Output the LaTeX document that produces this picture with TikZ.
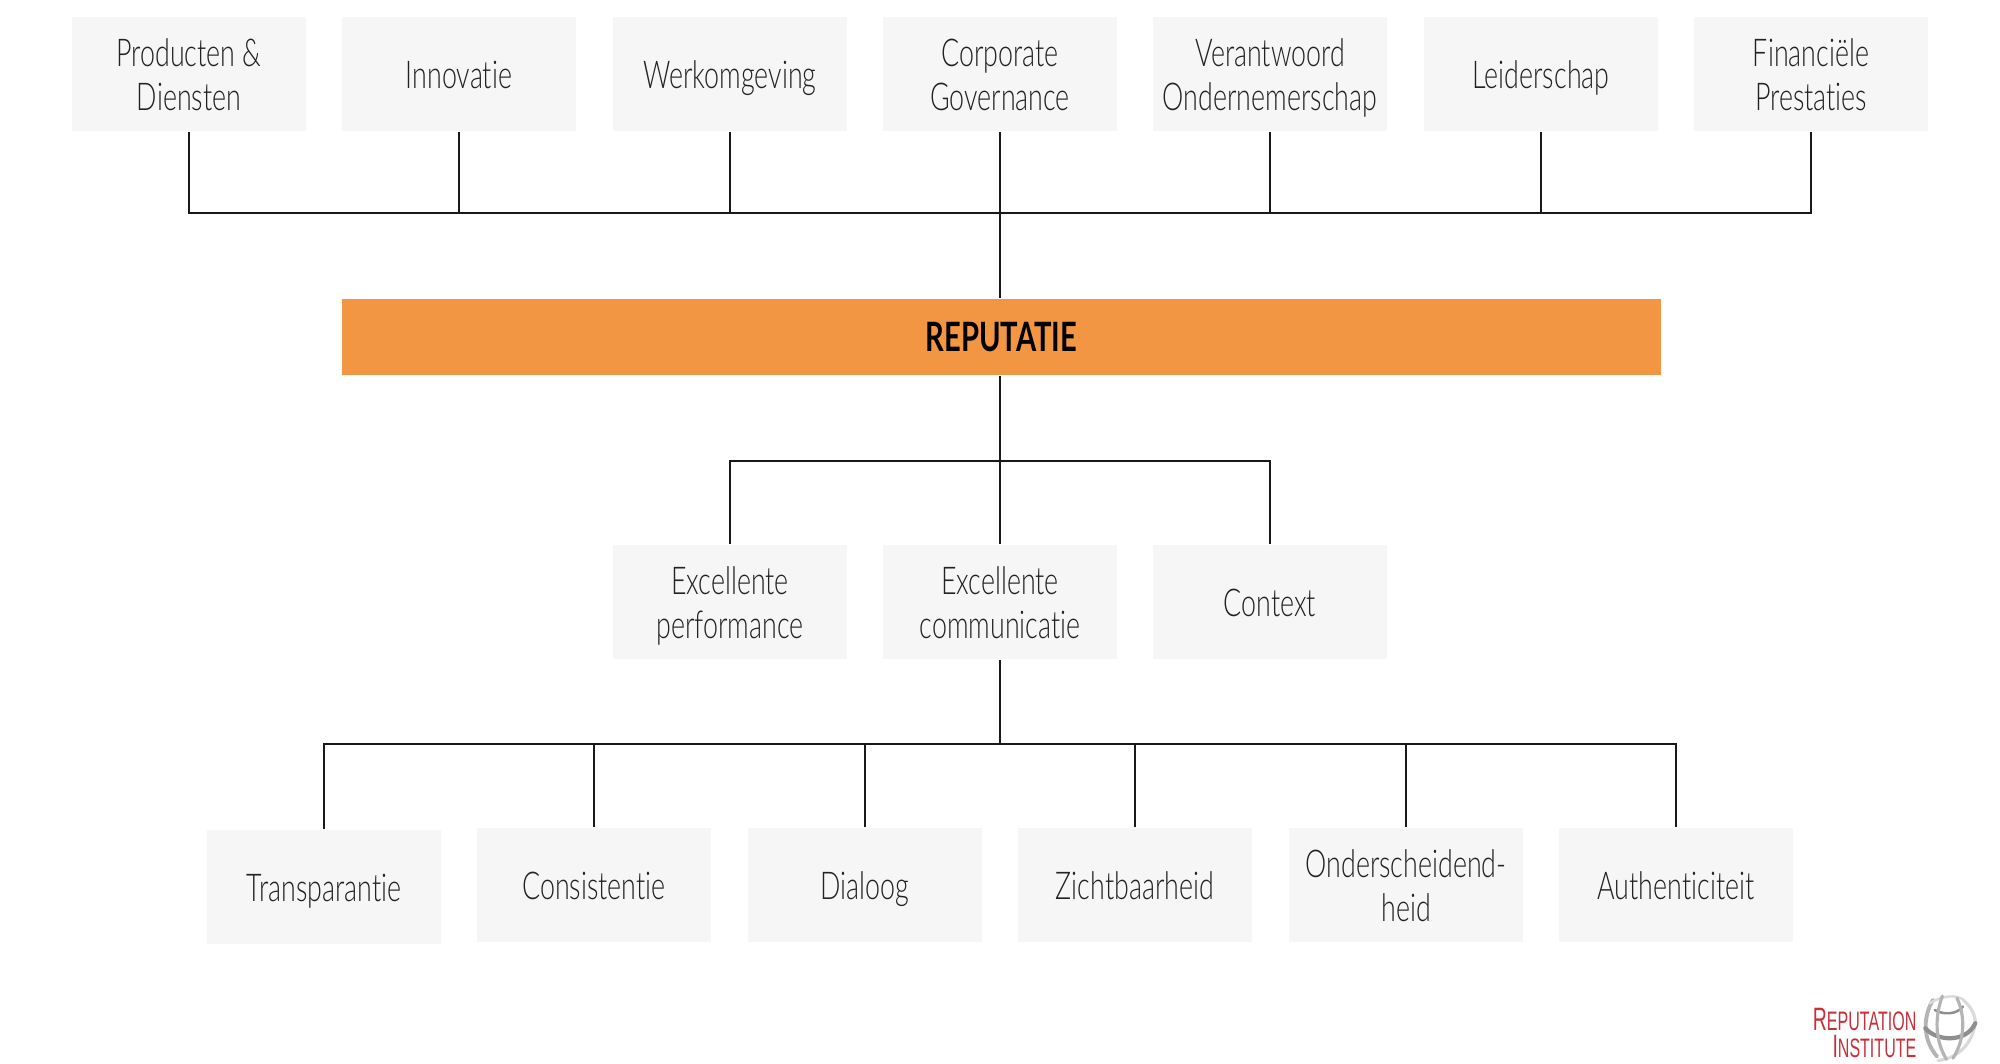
\documentclass[tikz,border=0pt]{standalone}
\usepackage{fontspec}
\setmainfont{Lato Light}[FakeStretch=0.70,RawFeature={-liga;-dlig}]
\newfontfamily\boldlabel{Lato Bold}[FakeStretch=0.72]
\newfontfamily\logofont{Liberation Sans}[FakeStretch=0.60]
\newcommand{\toprow}{\rule{0pt}{10.4pt}}
\definecolor{boxgrey}{HTML}{F6F6F6}
\definecolor{repor}{HTML}{F39644}
\definecolor{inkc}{HTML}{222222}
\definecolor{logored}{HTML}{C9303A}
\definecolor{globea}{HTML}{B4B4B4}
\definecolor{globeb}{HTML}{8E8E8E}
\definecolor{globec}{HTML}{DADADA}
\tikzset{
  x=0.01cm,y=-0.01cm,
  factor/.style={fill=boxgrey,minimum width=2.34cm,minimum height=1.14cm,inner sep=0pt,
    align=center,text=inkc,font=\fontsize{10.9}{12.5}\selectfont,
    execute at end node={\vphantom{Ag}}},
  central/.style={fill=repor,minimum width=13.19cm,minimum height=0.76cm,inner sep=0pt,
    text=black,font=\boldlabel\fontsize{11.5}{13}\selectfont},
  link/.style={draw=black!90,line width=0.55pt},
  logotext/.style={text=logored,inner sep=0pt,anchor=east,font=\logofont\fontsize{7.6}{9}\selectfont},
}
\begin{document}
\begin{tikzpicture}
\useasboundingbox (0,0) rectangle (2000,1064);
% top row
\node[factor] (t1) at (189,74) {\toprow Producten \&\\Diensten};
\node[factor] (t2) at (459,74) {\toprow Innovatie};
\node[factor] (t3) at (730,74) {\toprow Werkomgeving};
\node[factor] (t4) at (1000,74) {\toprow Corporate\\Governance};
\node[factor] (t5) at (1270,74) {\toprow Verantwoord\\Ondernemerschap};
\node[factor] (t6) at (1541,74) {\toprow Leiderschap};
\node[factor] (t7) at (1811,74) {\toprow Financiële\\Prestaties};
% centre
\node[central] (rep) at (1001.5,337) {\raisebox{-0.3pt}{REPUTATIE}};
% middle row
\node[factor] (m1) at (730,602) {\toprow Excellente\\performance};
\node[factor] (m2) at (1000,602) {\toprow Excellente\\communicatie};
\node[factor] (m3) at (1270,602) {\toprow Context};
% bottom row
\node[factor] (b1) at (324,887) {\toprow Transparantie};
\node[factor] (b2) at (594,885) {\toprow Consistentie};
\node[factor] (b3) at (865,885) {\toprow Dialoog};
\node[factor] (b4) at (1135,885) {\toprow Zichtbaarheid};
\node[factor] (b5) at (1406,885) {\toprow Onderscheidend-\\heid};
\node[factor] (b6) at (1676,885) {\toprow Authenticiteit};
% buses
\coordinate (bustop) at (1000,213);
\coordinate (busmid) at (1000,461);
\coordinate (buslow) at (1000,744);
\draw[link] (t1.south) |- (bustop);
\draw[link] (t7.south) |- (bustop);
\foreach \n in {t2,t3,t5,t6} \draw[link] (\n.south) -- (\n.south |- bustop);
\draw[link] (t4.south) -- (t4.south |- rep.north);
\draw[link] (m2.north |- rep.south) -- (m2.north);
\draw[link] (m1.north) |- (busmid);
\draw[link] (m3.north) |- (busmid);
\draw[link] (m2.south) -- (buslow);
\draw[link] (b1.north) |- (buslow);
\draw[link] (b6.north) |- (buslow);
\foreach \n in {b2,b3,b4,b5} \draw[link] (\n.north) -- (\n.north |- buslow);
% logo text
\node[logotext] (lg1) at (1917,1019) {\fontsize{9.2}{10}\selectfont R\fontsize{7.6}{9}\selectfont EPUTATION};
\node[logotext] (lg2) at (1917,1046) {\fontsize{9.2}{10}\selectfont I\fontsize{7.6}{9}\selectfont NSTITUTE};
% logo globe, drawn in zoom-crop coordinates
\begin{scope}[shift={(1750,960)},x=0.003333cm,y=-0.003333cm,line cap=round,fill=none]
  \draw[globea,line width=1.1pt] (550,120) .. controls (522,165) and (515,235) .. (562,290);
  \draw[globec,line width=0.7pt] (540,130) .. controls (580,105) and (620,105) .. (640,118);
  \draw[globeb,line width=0.7pt] (555,150) .. controls (580,165) and (620,165) .. (640,140);
  \draw[globec,line width=0.9pt] (640,120) .. controls (665,140) and (680,170) .. (676,195)
     .. controls (668,245) and (630,295) .. (565,302);
  \draw[globeb,line width=1.2pt] (527,205) .. controls (560,245) and (650,250) .. (677,190);
  \draw[globea,line width=0.9pt] (578,108) .. controls (555,170) and (555,240) .. (590,298);
  \draw[globea,line width=0.9pt] (622,115) .. controls (648,170) and (645,240) .. (610,295);
\end{scope}
\end{tikzpicture}
\end{document}
